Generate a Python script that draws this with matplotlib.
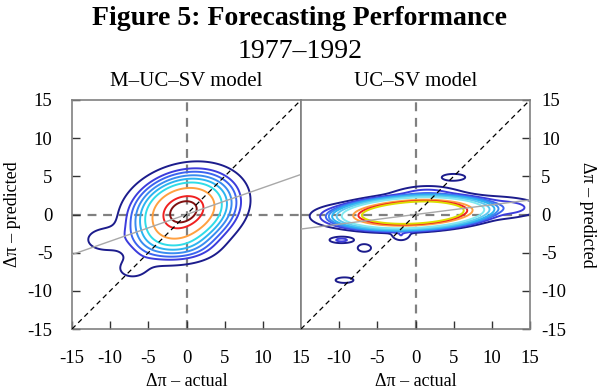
import numpy as np
import matplotlib
matplotlib.use("Agg")
import matplotlib.pyplot as plt

plt.rcParams['font.family'] = ['Liberation Serif', 'DejaVu Serif']
plt.rcParams['axes.unicode_minus'] = False

# ---- data ----
title = "Figure 5: Forecasting Performance"
subtitle = "1977\u20131992"
panel_titles = ["M\u2013UC\u2013SV model", "UC\u2013SV model"]
x_label = "\u0394\u03c0 \u2013 actual"
y_label = "\u0394\u03c0 \u2013 predicted"
ticks = [-15, -10, -5, 0, 5, 10, 15]

# density pieces for each panel: centre, spread, correlation, weight, flatness
left_cx = [-0.3, -3.5, 0.5, -11.3, -7.2]
left_cy = [0.6, -3.6, -4.6, -3.3, -7.3]
left_sx = [4.3, 3.5, 3.0, 1.8, 1.6]
left_sy = [3.15, 2.2, 1.5, 1.2, 1.0]
left_rho = [0.2, 0.3, 0.0, 0.0, 0.0]
left_w = [1.0, 0.14, 0.10, 0.17, 0.14]
left_p = [1, 1, 1, 1, 1]
left_levels = [0.13, 0.224, 0.283, 0.354, 0.43, 0.522, 0.659, 0.852, 0.944]
left_colors = ['#1c1c8c', '#3c3cdc', '#3c64f0', '#3a8cf0', '#2cb4f0', '#30dce8',
               '#ffa040', '#f02020', '#801010']

right_cx = [-0.3, 0.0, -9.5, 12.0, 1.5, -1.9, -9.7, -6.7, -9.3, 5.0]
right_cy = [0.2, 0.3, -0.2, 0.9, 2.3, -2.8, -3.35, -4.4, -8.6, 4.9]
right_sx = [6.5, 7.0, 2.5, 3.0, 2.5, 0.8, 1.15, 0.8, 1.3, 1.6]
right_sy = [1.42, 1.5, 0.8, 0.8, 0.9, 0.5, 0.3, 0.45, 0.4, 0.45]
right_rho = [0.2, 0.2, 0.0, 0.0, 0.0, 0.0, 0.0, 0.0, 0.0, 0.0]
right_w = [1.0, 0.08, 0.04, 0.04, 0.05, 0.03, 0.045, 0.035, 0.03, 0.03]
right_p = [3, 1, 1, 1, 1, 1, 1, 1, 1, 1]
right_levels = [0.02, 0.04, 0.07, 0.10, 0.15, 0.25, 0.40, 0.75, 0.87, 0.93]
right_colors = ['#1c1c8c', '#3c3cdc', '#3c64f0', '#3a8cf0', '#2cb4f0', '#5cc8f0',
                '#80e8f0', '#ffa040', '#f02020', '#dddd00']

# fitted lines (through origin)
left_slope = 0.35
right_slope = 0.127


def density(X, Y, cx, cy, sx, sy, rho, w, p):
    Z = np.zeros_like(X)
    for i in range(len(cx)):
        a = (X - cx[i]) / sx[i]
        b = (Y - cy[i]) / sy[i]
        q = (a * a - 2 * rho[i] * a * b + b * b) / (1 - rho[i] ** 2)
        Z += w[i] * np.exp(-(q / 2) ** p[i])
    return Z


g = np.linspace(-15, 15, 401)
X, Y = np.meshgrid(g, g)
Z_left = density(X, Y, left_cx, left_cy, left_sx, left_sy, left_rho, left_w, left_p)
Z_right = density(X, Y, right_cx, right_cy, right_sx, right_sy, right_rho, right_w, right_p)

fig = plt.figure(figsize=(6, 3.9), dpi=100)
ax1 = fig.add_axes([72 / 600, 61 / 390, 229 / 600, 229 / 390])
ax2 = fig.add_axes([301 / 600, 61 / 390, 229 / 600, 229 / 390])

panels = [
    (ax1, Z_left, left_levels, left_colors, left_slope),
    (ax2, Z_right, right_levels, right_colors, right_slope),
]

for ax, Z, levels, colors, slope in panels:
    ax.axhline(0, color='#808080', lw=1.6, ls=(0, (4, 3)), zorder=1)
    ax.axvline(0, color='#808080', lw=1.6, ls=(0, (4, 3)), zorder=1)
    ax.contour(X, Y, Z, levels=levels, colors=colors, linewidths=1.4, zorder=2)
    ax.plot(g, slope * g, color='#a8a8a8', lw=1.0, zorder=3)
    ax.plot(g, g, color='black', lw=0.9, ls=(0, (4, 3)), zorder=3)
    ax.set_xlim(-15, 15)
    ax.set_ylim(-15, 15)
    for s in ax.spines.values():
        s.set_color('#808080')
        s.set_linewidth(1.2)
    ax.set_xlabel(x_label, fontsize=13, va='center')
    ax.xaxis.set_label_coords(0.5, -0.23)
    ax.tick_params(direction='in', length=6, width=1, color='#333333', labelsize=13.5)
    ax.tick_params(axis='x', pad=15)
    ax.set_title(panel_titles[ax is ax2], fontsize=15, pad=10)

ax1.set_xticks(ticks)
ax1.set_yticks(ticks)
ax1.tick_params(axis='y', pad=14)
ax1.set_ylabel(y_label, fontsize=13, va='center')
ax1.yaxis.set_label_coords(-0.262, 0.5)

ax2.set_xticks(ticks[1:])
ax2.set_yticks(ticks)
ax2.yaxis.tick_right()
ax2.tick_params(axis='y', pad=8)
ax2.yaxis.set_label_position('right')
ax2.set_ylabel(y_label, fontsize=13, rotation=270, va='center')
ax2.yaxis.set_label_coords(1.253, 0.5)

fig.text(0.5, 1 - 25 / 390, title, ha='center', va='baseline', fontsize=20, fontweight='bold')
fig.text(0.5, 1 - 58 / 390, subtitle, ha='center', va='baseline', fontsize=20)

fig.savefig("out.png", dpi=100)
